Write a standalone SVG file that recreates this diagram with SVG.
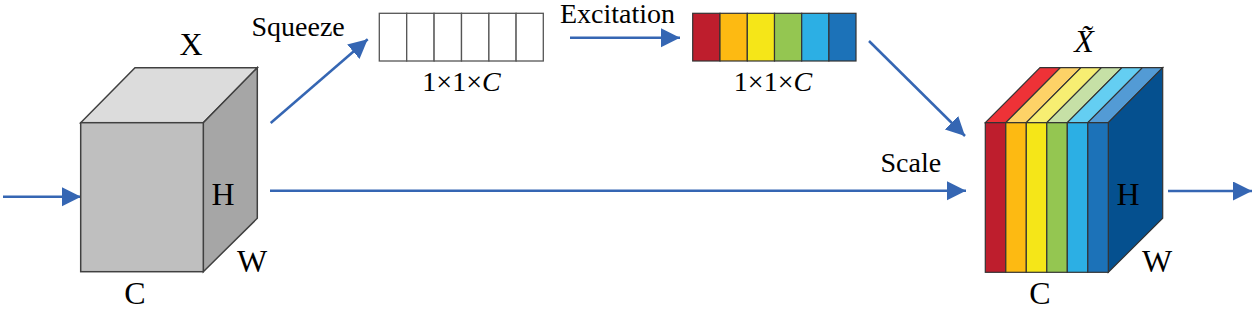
<svg xmlns="http://www.w3.org/2000/svg" width="1255" height="310" viewBox="0 0 1255 310">
<style>
text{font-family:"Liberation Serif","Times New Roman",serif;fill:#000}
.lbl{font-size:32px}
.s{font-size:28px}
.edge{stroke:#3566B3;stroke-width:2.5;fill:none}
.box{stroke:#404040;stroke-width:1.5}
.cell{fill:#fff;stroke:#555;stroke-width:1.3}
.strip{stroke:#333;stroke-width:1.2}
</style>
<defs>
<marker id="ah" markerUnits="userSpaceOnUse" markerWidth="20" markerHeight="20" refX="19" refY="9.5" orient="auto">
<path d="M0,0 L19,9.5 L0,19 z" fill="#3566B3"/>
</marker>
</defs>
<g id="connectors">
<line class="edge" x1="3" y1="196.7" x2="81" y2="196.7" marker-end="url(#ah)"/>
<line class="edge" x1="270.7" y1="123" x2="367.7" y2="39.3" marker-end="url(#ah)"/>
<line class="edge" x1="570" y1="37.7" x2="680" y2="37.7" marker-end="url(#ah)"/>
<line class="edge" x1="869" y1="41" x2="965" y2="136" marker-end="url(#ah)"/>
<line class="edge" x1="270" y1="190.7" x2="966" y2="190.7" marker-end="url(#ah)"/>
<line class="edge" x1="1168" y1="191" x2="1252" y2="191" marker-end="url(#ah)"/>
<text class="s" x="251.5" y="36">Squeeze</text>
<text class="s" x="560" y="23">Excitation</text>
<text class="s" x="880.5" y="171.7">Scale</text>
</g>
<g id="input-cube">
<polygon class="box" points="80.7,122.7 135,67.7 257.3,67.7 203.3,122.7" fill="#DCDCDC"/>
<polygon class="box" points="203.3,122.7 257.3,67.7 257.3,218.3 203.3,271.7" fill="#A6A6A6"/>
<rect class="box" x="80.7" y="122.7" width="122.6" height="149" fill="#BFBFBF"/>
<text class="lbl" x="191" y="54.5" text-anchor="middle">X</text>
<text class="lbl" x="223" y="205" text-anchor="middle">H</text>
<text class="lbl" x="252" y="271.7" text-anchor="middle">W</text>
<text class="lbl" x="135" y="303.5" text-anchor="middle">C</text>
</g>
<g id="squeeze-vector">
<rect class="cell" x="379.3" y="13.3" width="27.4" height="47.7"/>
<rect class="cell" x="406.7" y="13.3" width="27.4" height="47.7"/>
<rect class="cell" x="434.1" y="13.3" width="27.4" height="47.7"/>
<rect class="cell" x="461.5" y="13.3" width="27.4" height="47.7"/>
<rect class="cell" x="488.9" y="13.3" width="27.2" height="47.7"/>
<rect class="cell" x="516.1" y="13.3" width="27.2" height="47.7"/>
<text class="s" x="461.5" y="90.7" text-anchor="middle">1×1×<tspan font-style="italic">C</tspan></text>
</g>
<g id="excitation-vector">
<rect class="strip" x="692.7" y="13.3" width="27.3" height="47.7" fill="#BE1E2D"/>
<rect class="strip" x="720" y="13.3" width="27.3" height="47.7" fill="#FDBA12"/>
<rect class="strip" x="747.3" y="13.3" width="27.2" height="47.7" fill="#F5E618"/>
<rect class="strip" x="774.5" y="13.3" width="27.2" height="47.7" fill="#94C651"/>
<rect class="strip" x="801.7" y="13.3" width="27.2" height="47.7" fill="#2CAFE4"/>
<rect class="strip" x="828.9" y="13.3" width="27.1" height="47.7" fill="#1C72B8"/>
<text class="s" x="773" y="90.7" text-anchor="middle">1×1×<tspan font-style="italic">C</tspan></text>
</g>
<g id="output-cube">
<polygon class="strip" points="985.3,122.7 1040,67.7 1060.5,67.7 1005.8,122.7" fill="#EE3237"/>
<polygon class="strip" points="1005.8,122.7 1060.5,67.7 1081,67.7 1026.3,122.7" fill="#FDD267"/>
<polygon class="strip" points="1026.3,122.7 1081,67.7 1101.5,67.7 1046.8,122.7" fill="#F7EE72"/>
<polygon class="strip" points="1046.8,122.7 1101.5,67.7 1122,67.7 1067.3,122.7" fill="#C6E0A6"/>
<polygon class="strip" points="1067.3,122.7 1122,67.7 1142.5,67.7 1087.8,122.7" fill="#64CEF2"/>
<polygon class="strip" points="1087.8,122.7 1142.5,67.7 1162.7,67.7 1108.3,122.7" fill="#539BD5"/>
<polygon class="strip" points="1108.3,122.7 1162.7,67.7 1162.7,218.3 1108.3,272.3" fill="#05508F"/>
<rect class="strip" x="985.3" y="122.7" width="20.5" height="149.6" fill="#BE1E2D"/>
<rect class="strip" x="1005.8" y="122.7" width="20.5" height="149.6" fill="#FDBA12"/>
<rect class="strip" x="1026.3" y="122.7" width="20.5" height="149.6" fill="#F5E618"/>
<rect class="strip" x="1046.8" y="122.7" width="20.5" height="149.6" fill="#94C651"/>
<rect class="strip" x="1067.3" y="122.7" width="20.5" height="149.6" fill="#2CAFE4"/>
<rect class="strip" x="1087.8" y="122.7" width="20.5" height="149.6" fill="#1C72B8"/>
<text class="lbl" x="1084" y="51.7" text-anchor="middle" font-style="italic">X̃</text>
<text class="lbl" x="1128" y="205" text-anchor="middle">H</text>
<text class="lbl" x="1157" y="271.7" text-anchor="middle">W</text>
<text class="lbl" x="1040" y="303.5" text-anchor="middle">C</text>
</g>
</svg>
